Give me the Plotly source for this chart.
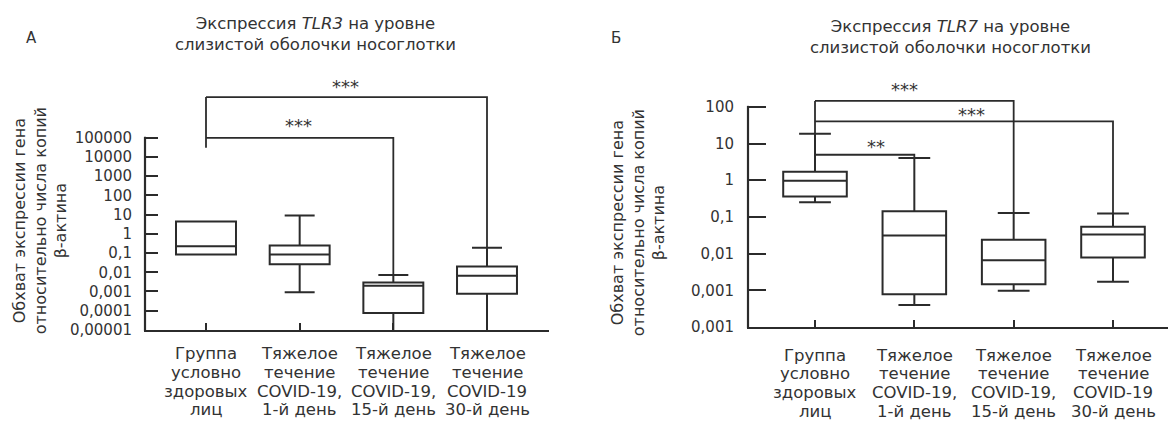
import math
import plotly.graph_objects as go

W, H = 1168, 428
FONT = "DejaVu Sans"
INK = "#2b2b2b"
TXT = "#333333"

# ---------------- data ----------------
category_lines = [
    ["Группа", "условно", "здоровых", "лиц"],
    ["Тяжелое", "течение", "COVID-19,", "1-й день"],
    ["Тяжелое", "течение", "COVID-19,", "15-й день"],
    ["Тяжелое", "течение", "COVID-19", "30-й день"],
]
positions = [0, 1, 2, 3]

# Panel A: TLR3
tlr3_lower = [0.085, 0.00091, 0.000004, 0.000004]
tlr3_q1 = [0.085, 0.026, 0.000075, 0.00076]
tlr3_median = [0.225, 0.085, 0.0020, 0.0065]
tlr3_q3 = [4.4, 0.245, 0.0029, 0.020]
tlr3_upper = [4.4, 9.0, 0.0072, 0.187]
tlr3_tickvals = [1e-5, 1e-4, 1e-3, 1e-2, 1e-1, 1, 10, 100, 1000, 10000, 100000]
tlr3_ticktext = ["0,00001", "0,0001", "0,001", "0,01", "0,1", "1", "10", "100",
                 "1000", "10000", "100000"]
tlr3_comparisons = [(0, 3, "***"), (0, 2, "***")]

# Panel B: TLR7
tlr7_lower = [0.25, 0.0004, 0.00097, 0.0017]
tlr7_q1 = [0.36, 0.00078, 0.00145, 0.0078]
tlr7_median = [0.96, 0.031, 0.0066, 0.033]
tlr7_q3 = [1.7, 0.143, 0.024, 0.054]
tlr7_upper = [18.6, 4.0, 0.128, 0.124]
tlr7_tickvals = [1e-4, 1e-3, 1e-2, 1e-1, 1, 10, 100]
tlr7_ticktext = ["0,001", "0,001", "0,01", "0,1", "1", "10", "100"]
tlr7_comparisons = [(0, 2, "***"), (0, 3, "***"), (0, 1, "**")]

# ---------------- layout geometry (pixels) ----------------
def px_x(p):
    return p / W

def px_y(p):
    return 1 - p / H

A_left, A_right, A_top, A_bottom = 144, 549, 80, 337
A_c0, A_c3 = 206, 487
A_decade = 19.63
B_left, B_right, B_top, B_bottom = 747, 1168, 80, 334
B_c0, B_c3 = 815, 1113
B_decade = 37.48

def xrange(left, right, c0, c3):
    s = (c3 - c0) / 3
    return [(left - c0) / s, (right - c0) / s]

A_xr = xrange(A_left, A_right, A_c0, A_c3)
B_xr = xrange(B_left, B_right, B_c0, B_c3)
A_yr = [-5, -5 + (A_bottom - A_top) / A_decade]
B_yr = [-4, -4 + (B_bottom - B_top) / B_decade]

fig = go.Figure()

def add_box(lower, q1, med, q3, upper, xa, ya):
    fig.add_trace(go.Box(
        x=positions, lowerfence=lower, q1=q1, median=med, q3=q3, upperfence=upper,
        width=0.64, whiskerwidth=0.5, boxpoints=False,
        line=dict(color=INK, width=2), fillcolor="rgba(255,255,255,0)",
        xaxis=xa, yaxis=ya, showlegend=False, hoverinfo="skip",
    ))

add_box(tlr3_lower, tlr3_q1, tlr3_median, tlr3_q3, tlr3_upper, "x", "y")
add_box(tlr7_lower, tlr7_q1, tlr7_median, tlr7_q3, tlr7_upper, "x2", "y2")

def line(xs, ys, xa, ya):
    fig.add_trace(go.Scatter(x=xs, y=ys, mode="lines", line=dict(color=INK, width=1.8),
                             xaxis=xa, yaxis=ya, showlegend=False, hoverinfo="skip"))

A_heights = [1.3e7, 9.8e4]
A_left_drop = 3.0e4
B_heights = [145, 40, 4.94]

for (i, j, lab), h in zip(tlr3_comparisons, A_heights):
    line([positions[i], positions[j], positions[j]], [h, h, tlr3_upper[j]], "x", "y")
line([positions[0], positions[0]], [max(A_heights), A_left_drop], "x", "y")

for (i, j, lab), h in zip(tlr7_comparisons, B_heights):
    line([positions[i], positions[j], positions[j]], [h, h, tlr7_upper[j]], "x2", "y2")
line([positions[0], positions[0]], [max(B_heights), tlr7_upper[0]], "x2", "y2")

ann = []
A_star_xy = [(1.49, 7.95), (0.99, 5.9)]
B_star_xy = [(0.896, 2.6), (1.58, 1.92), (0.614, 1.06)]
for (i, j, lab), (sx, sy) in zip(tlr3_comparisons, A_star_xy):
    ann.append(dict(x=sx, y=sy, xref="x", yref="y", text=lab, showarrow=False,
                    font=dict(family=FONT, size=18, color=TXT), yshift=-5))
for (i, j, lab), (sx, sy) in zip(tlr7_comparisons, B_star_xy):
    ann.append(dict(x=sx, y=sy, xref="x2", yref="y2", text=lab, showarrow=False,
                    font=dict(family=FONT, size=18, color=TXT), yshift=-5))

for xa, first, step in (("x", 361, 19.2), ("x2", 363, 19.0)):
    for p, lines in zip(positions, category_lines):
        for k, t in enumerate(lines):
            ann.append(dict(x=p, y=px_y(first + k * step), xref=xa, yref="paper", text=t,
                            showarrow=False, xanchor="center", yanchor="middle",
                            font=dict(family=FONT, size=16.5, color=TXT)))

ann.append(dict(x=px_x(315), y=px_y(34.5), xref="paper", yref="paper",
                text="Экспрессия <i>TLR3</i> на уровне<br>слизистой оболочки носоглотки",
                showarrow=False, xanchor="center", yanchor="middle",
                font=dict(family=FONT, size=16.5, color=TXT)))
ann.append(dict(x=px_x(950), y=px_y(37.5), xref="paper", yref="paper",
                text="Экспрессия <i>TLR7</i> на уровне<br>слизистой оболочки носоглотки",
                showarrow=False, xanchor="center", yanchor="middle",
                font=dict(family=FONT, size=16.5, color=TXT)))
ann.append(dict(x=px_x(24), y=px_y(28), xref="paper", yref="paper", text="А",
                showarrow=False, font=dict(family=FONT, size=15, color=TXT)))
ann.append(dict(x=px_x(616), y=px_y(28), xref="paper", yref="paper", text="Б",
                showarrow=False, font=dict(family=FONT, size=15, color=TXT)))
ytitle = "Обхват экспрессии гена<br>относительно числа копий<br>β-актина"
ann.append(dict(x=px_x(40), y=px_y(226), xref="paper", yref="paper", text=ytitle,
                textangle=-90, showarrow=False, xanchor="center", yanchor="middle",
                font=dict(family=FONT, size=16, color=TXT)))
ann.append(dict(x=px_x(638), y=px_y(228), xref="paper", yref="paper", text=ytitle,
                textangle=-90, showarrow=False, xanchor="center", yanchor="middle",
                font=dict(family=FONT, size=16, color=TXT)))

# y axis lines, from the x axis up to the highest tick
shapes = []
for left, bottom, yr, top, dec in ((A_left, A_bottom, A_yr, 5, A_decade),
                                   (B_left, B_bottom, B_yr, 2, B_decade)):
    top_px = bottom - (top - yr[0]) * dec
    shapes.append(dict(type="line", xref="paper", yref="paper",
                       x0=px_x(left + 1), x1=px_x(left + 1),
                       y0=px_y(bottom + 1), y1=px_y(top_px - 1),
                       line=dict(color=INK, width=2.2), layer="above"))

common_x = dict(showline=True, linecolor=INK, linewidth=2.2, ticks="inside", ticklen=7,
                tickwidth=1.6, tickcolor=INK, tickvals=positions, showticklabels=False,
                showgrid=False, zeroline=False)
common_y = dict(type="log", showline=False, ticks="inside", tickwidth=1.8, tickcolor=INK,
                showgrid=False, zeroline=False,
                tickfont=dict(family=FONT, size=15, color=TXT))

fig.update_layout(
    width=W, height=H, margin=dict(l=0, r=0, t=0, b=0),
    paper_bgcolor="white", plot_bgcolor="white",
    xaxis=dict(domain=[px_x(A_left), px_x(A_right)], range=A_xr, anchor="y", **common_x),
    yaxis=dict(domain=[px_y(A_bottom), px_y(A_top)], range=A_yr, anchor="x",
               tickvals=tlr3_tickvals, ticktext=tlr3_ticktext, ticklen=14,
               ticklabelstandoff=11, **common_y),
    xaxis2=dict(domain=[px_x(B_left), px_x(B_right)], range=B_xr, anchor="y2", **common_x),
    yaxis2=dict(domain=[px_y(B_bottom), px_y(B_top)], range=B_yr, anchor="x2",
                tickvals=tlr7_tickvals, ticktext=tlr7_ticktext, ticklen=19,
                ticklabelstandoff=12, **common_y),
    annotations=ann, shapes=shapes,
)

fig.write_html("out.html")
